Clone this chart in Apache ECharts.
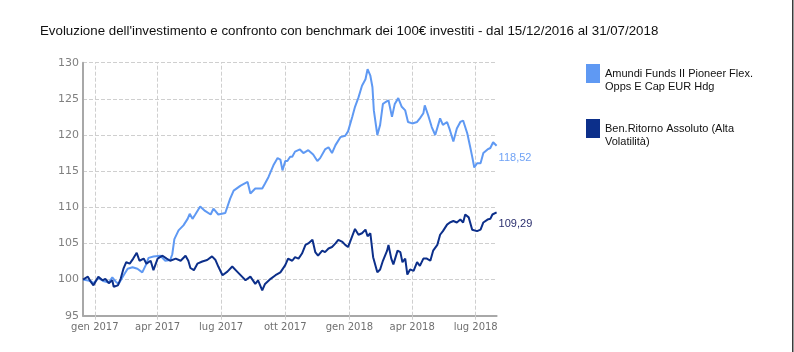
<!DOCTYPE html>
<html><head><meta charset="utf-8">
<script src="https://cdn.jsdelivr.net/npm/echarts@6/dist/echarts.min.js"></script>
<style>html,body{margin:0;padding:0;background:#fff}#c{width:794px;height:352px}</style>
</head><body><div id="c"></div>
<script>
const titleText = "Evoluzione dell'investimento e confronto con benchmark dei 100€ investiti - dal 15/12/2016 al 31/07/2018";
const seriesNames = ['Amundi Funds II Pioneer Flex. Opps E Cap EUR Hdg', 'Ben.Ritorno Assoluto (Alta Volatilità)'];
const legendLabels = ['Amundi Funds II Pioneer Flex.\nOpps E Cap EUR Hdg', 'Ben.Ritorno Assoluto (Alta\nVolatilità)'];
const seriesColors = ['#5f99f3', '#0c2f8a'];
const endLabelColors = ['#6fa2f5', '#2b2f6e'];

const fundDates = ['2016-12-15','2016-12-26','2016-12-30','2017-01-06','2017-01-13','2017-01-21','2017-01-26','2017-01-31','2017-02-04','2017-02-10','2017-02-17','2017-02-24','2017-03-03','2017-03-10','2017-03-15','2017-03-19','2017-03-26','2017-04-05','2017-04-12','2017-04-19','2017-04-22','2017-04-25','2017-05-01','2017-05-08','2017-05-14','2017-05-17','2017-05-21','2017-05-25','2017-06-01','2017-06-08','2017-06-16','2017-06-20','2017-06-27','2017-07-07','2017-07-14','2017-07-19','2017-07-29','2017-08-08','2017-08-12','2017-08-19','2017-08-29','2017-09-02','2017-09-07','2017-09-14','2017-09-20','2017-09-24','2017-09-27','2017-10-01','2017-10-04','2017-10-08','2017-10-11','2017-10-15','2017-10-22','2017-10-27','2017-11-03','2017-11-10','2017-11-16','2017-11-20','2017-11-27','2017-12-02','2017-12-07','2017-12-12','2017-12-19','2017-12-26','2017-12-30','2018-01-05','2018-01-09','2018-01-14','2018-01-19','2018-01-24','2018-01-27','2018-01-31','2018-02-03','2018-02-05','2018-02-10','2018-02-14','2018-02-18','2018-02-21','2018-02-26','2018-03-03','2018-03-07','2018-03-12','2018-03-17','2018-03-22','2018-03-26','2018-04-01','2018-04-08','2018-04-12','2018-04-17','2018-04-19','2018-04-24','2018-04-29','2018-05-04','2018-05-11','2018-05-15','2018-05-21','2018-05-25','2018-05-30','2018-06-04','2018-06-09','2018-06-13','2018-06-19','2018-06-23','2018-06-26','2018-06-29','2018-07-03','2018-07-08','2018-07-12','2018-07-18','2018-07-22','2018-07-26','2018-07-31'];
const fundValues = [100.0,99.8,99.5,100.2,99.8,99.6,100.3,99.7,99.4,100.4,101.5,101.7,101.5,101.0,102.0,103.0,103.2,103.3,102.6,102.7,103.5,105.6,106.8,107.5,108.4,109.1,108.4,109.0,110.1,109.5,109.0,109.8,109.0,109.2,111.2,112.3,113.0,113.5,111.9,112.6,112.6,113.3,114.2,115.8,116.8,116.6,115.1,116.4,116.4,117.0,117.0,117.7,118.0,117.5,117.9,117.3,116.4,116.8,118.0,118.3,117.5,118.6,119.7,119.9,120.5,122.5,123.9,125.2,126.8,127.7,129.1,128.2,126.6,123.4,120.0,121.4,124.3,124.5,124.8,122.5,124.3,125.1,123.9,123.4,121.8,121.6,121.8,122.3,123.0,124.1,122.7,121.1,120.0,122.3,121.4,121.8,120.7,119.1,120.9,121.8,122.0,120.2,118.4,117.0,115.5,116.1,116.1,117.5,118.0,118.2,119.0,118.52];

const benchDates = ['2016-12-15','2016-12-22','2016-12-26','2016-12-30','2017-01-06','2017-01-12','2017-01-16','2017-01-21','2017-01-26','2017-01-28','2017-02-03','2017-02-07','2017-02-11','2017-02-15','2017-02-20','2017-02-25','2017-03-02','2017-03-06','2017-03-12','2017-03-16','2017-03-22','2017-03-26','2017-04-01','2017-04-08','2017-04-14','2017-04-19','2017-04-27','2017-05-04','2017-05-11','2017-05-15','2017-05-18','2017-05-23','2017-05-28','2017-06-04','2017-06-11','2017-06-18','2017-06-23','2017-06-27','2017-07-03','2017-07-10','2017-07-17','2017-07-24','2017-07-31','2017-08-05','2017-08-12','2017-08-19','2017-08-23','2017-08-29','2017-09-02','2017-09-10','2017-09-17','2017-09-24','2017-10-01','2017-10-05','2017-10-11','2017-10-15','2017-10-20','2017-10-25','2017-10-30','2017-11-03','2017-11-09','2017-11-13','2017-11-17','2017-11-23','2017-11-27','2017-12-02','2017-12-07','2017-12-12','2017-12-16','2017-12-22','2017-12-26','2017-12-30','2018-01-05','2018-01-09','2018-01-14','2018-01-19','2018-01-24','2018-01-27','2018-01-31','2018-02-04','2018-02-10','2018-02-14','2018-02-18','2018-02-24','2018-02-26','2018-03-02','2018-03-05','2018-03-11','2018-03-15','2018-03-18','2018-03-22','2018-03-25','2018-03-29','2018-04-03','2018-04-08','2018-04-12','2018-04-17','2018-04-22','2018-04-27','2018-05-01','2018-05-07','2018-05-11','2018-05-15','2018-05-21','2018-05-25','2018-05-30','2018-06-04','2018-06-09','2018-06-13','2018-06-16','2018-06-21','2018-06-26','2018-07-03','2018-07-08','2018-07-12','2018-07-18','2018-07-22','2018-07-25','2018-07-31'];
const benchValues = [100.0,100.4,99.7,99.2,100.4,99.9,100.1,99.5,99.9,99.0,99.2,100.1,101.5,102.4,102.2,102.9,103.7,102.6,102.9,102.2,102.6,101.3,102.9,103.3,102.9,102.6,102.9,102.6,103.3,102.6,101.6,101.3,102.2,102.5,102.7,103.2,102.7,101.8,100.6,101.1,101.8,101.1,100.4,99.9,100.4,99.4,99.9,98.5,99.4,100.1,100.6,101.0,102.0,102.9,102.6,103.1,102.9,103.6,104.8,105.0,105.5,103.8,103.3,104.0,103.8,104.3,104.5,105.0,105.5,105.2,104.8,104.5,106.0,107.0,106.2,106.4,106.9,106.0,106.4,103.1,101.0,101.4,102.6,104.0,104.8,102.9,102.1,104.0,103.8,102.4,102.9,100.7,101.4,101.2,102.4,101.9,102.9,102.9,102.6,104.0,104.8,106.2,106.7,107.6,107.9,108.1,107.9,108.3,107.9,109.0,108.6,106.9,106.7,106.9,107.9,108.3,108.4,109.0,109.29];

const xMin = '2016-12-15';
const xMax = '2018-07-31';
const xTickDates = ['2017-01-01','2017-04-01','2017-07-01','2017-10-01','2018-01-01','2018-04-01','2018-07-01'];
const monthNames = ['gen','feb','mar','apr','mag','giu','lug','ago','set','ott','nov','dic'];
const yMin = 95, yMax = 130, yStep = 5;

function toTs(s) { const p = s.split('-').map(Number); return Date.UTC(p[0], p[1] - 1, p[2]); }
function pairs(ds, vs) { return ds.map((d, i) => [toTs(d), vs[i]]); }
const xTickValues = xTickDates.map(toTs);

const W = 794, H = 352;
const gridBox = { left: 83, right: 297.4, top: 62.7, bottom: 36.3 };
const plotH = H - gridBox.top - gridBox.bottom;
const gridStyle = { color: '#cfcfcf', type: 'dashed', width: 1 };

const chart = echarts.init(document.getElementById('c'), null, { renderer: 'canvas' });
chart.setOption({
  backgroundColor: '#fff',
  animation: false,
  title: {
    text: titleText, left: 40, top: 25, padding: 0,
    textStyle: { fontFamily: 'Liberation Sans, Arial, sans-serif', fontSize: 13.3, fontWeight: 'normal', color: '#111' }
  },
  legend: {
    orient: 'vertical', left: 586, top: 54, padding: 0, itemGap: 16,
    itemWidth: 14, itemHeight: 19, icon: 'rect',
    data: seriesNames,
    formatter: function (name) { return '\n' + legendLabels[seriesNames.indexOf(name)]; },
    textStyle: { fontFamily: 'Liberation Sans, Arial, sans-serif', fontSize: 11, color: '#111', lineHeight: 13 },
    selectedMode: false
  },
  grid: Object.assign({ containLabel: false }, gridBox),
  xAxis: [{
    type: 'value', min: toTs(xMin), max: toTs(xMax),
    axisLine: { lineStyle: { color: '#a8a8a8', width: 2 } },
    axisTick: { show: true, inside: true, customValues: xTickValues, length: plotH, lineStyle: gridStyle },
    axisLabel: {
      customValues: xTickValues, color: '#707070', fontSize: 10, fontFamily: 'DejaVu Sans, sans-serif', margin: 7,
      formatter: function (v) { const d = new Date(v); return monthNames[d.getUTCMonth()] + ' ' + d.getUTCFullYear(); }
    },
    splitLine: { show: false }
  }, {
    type: 'value', min: toTs(xMin), max: toTs(xMax), position: 'bottom',
    axisLine: { show: false },
    axisTick: { show: true, customValues: xTickValues, length: 5, lineStyle: gridStyle },
    axisLabel: { show: false },
    splitLine: { show: false }
  }],
  yAxis: {
    type: 'value', min: yMin, max: yMax, interval: yStep,
    axisLine: { show: true, lineStyle: { color: '#a8a8a8', width: 2 } },
    axisTick: { show: false },
    axisLabel: { color: '#808080', fontSize: 11, fontFamily: 'DejaVu Sans, sans-serif', margin: 4 },
    splitLine: { show: true, lineStyle: gridStyle }
  },
  series: [0, 1].map(function (i) {
    return {
      name: seriesNames[i], type: 'line', showSymbol: false, symbol: 'none',
      xAxisIndex: 0,
      data: i === 0 ? pairs(fundDates, fundValues) : pairs(benchDates, benchValues),
      color: seriesColors[i],
      lineStyle: { width: 2, color: seriesColors[i] },
      z: i === 0 ? 2 : 3,
      endLabel: {
        show: true, distance: 2, offset: [0, 12],
        color: endLabelColors[i], fontSize: 11, fontFamily: 'Liberation Sans, Arial, sans-serif',
        formatter: function (p) { return p.value[1].toFixed(2).replace('.', ','); }
      }
    };
  }),
  graphic: [{ type: 'rect', shape: { x: 792, y: 0, width: 1.5, height: H }, style: { fill: '#3a3a3a' } }]
});
</script></body></html>
